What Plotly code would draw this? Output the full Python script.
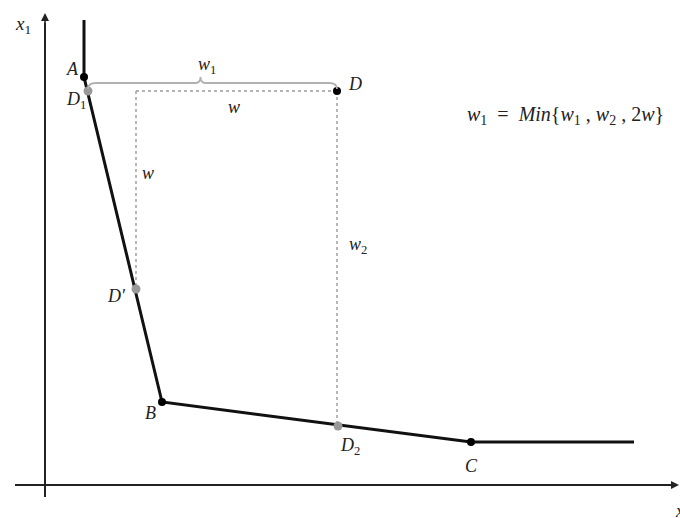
import plotly.graph_objects as go

# Frontier vertices (x2, x1) in chart units (origin at axes intersection)
frontier_names = ["top", "A", "B", "C", "end"]
frontier_x2 = [39, 39, 117, 426, 589]
frontier_x1 = [465, 408, 83, 43, 43]

# Named points
black_pts = ["A", "B", "C", "D"]
black_x2 = [39, 117, 426, 292]
black_x1 = [408, 83, 43, 394]

gray_pts = ["D1", "D'", "D2"]
gray_x2 = [43, 91, 293]
gray_x1 = [394, 196, 59]

FONT = "Liberation Serif"
fig = go.Figure()

# Axes
fig.add_trace(go.Scatter(x=[0, 0], y=[-12, 462], mode="lines",
                         line=dict(color="#222", width=2), hoverinfo="skip"))
fig.add_trace(go.Scatter(x=[-30, 628], y=[0, 0], mode="lines",
                         line=dict(color="#222", width=2), hoverinfo="skip"))

# Dotted construction lines
Dx, Dy = black_x2[3], black_x1[3]
Dpx, Dpy = gray_x2[1], gray_x1[1]
D2x, D2y = gray_x2[2], gray_x1[2]
dot = dict(color="#9a9a9a", width=1.4, dash="dot")
fig.add_trace(go.Scatter(x=[Dpx, Dx], y=[Dy, Dy], mode="lines", line=dot, hoverinfo="skip"))
fig.add_trace(go.Scatter(x=[Dpx, Dpx], y=[Dy, Dpy], mode="lines", line=dot, hoverinfo="skip"))
fig.add_trace(go.Scatter(x=[Dx, Dx], y=[Dy, D2y], mode="lines", line=dot, hoverinfo="skip"))

# Brace from D1 to D
x0b, x1b = gray_x2[0], Dx
yb = Dy + 8
mid = (x0b + x1b) / 2 - 12
path = (f"M {x0b},{Dy+2} Q {x0b},{yb} {x0b+8},{yb} L {mid-5},{yb} "
        f"Q {mid},{yb} {mid},{yb+6} Q {mid},{yb} {mid+5},{yb} "
        f"L {x1b-8},{yb} Q {x1b},{yb} {x1b},{Dy+2}")
fig.add_shape(type="path", path=path, xref="x", yref="y",
              line=dict(color="#b0b0b0", width=1.8))

# Frontier
fig.add_trace(go.Scatter(x=frontier_x2, y=frontier_x1, mode="lines",
                         line=dict(color="#111", width=3), hoverinfo="skip"))

# Points
fig.add_trace(go.Scatter(x=gray_x2, y=gray_x1, mode="markers",
                         marker=dict(color="#999", size=9), hoverinfo="skip"))
fig.add_trace(go.Scatter(x=black_x2, y=black_x1, mode="markers",
                         marker=dict(color="#000", size=8), hoverinfo="skip"))

def lab(x, y, text, dx=0, dy=0, size=18, xanchor="center"):
    fig.add_annotation(x=x, y=y, text=text, showarrow=False, xshift=dx, yshift=dy,
                       xanchor=xanchor, font=dict(family=FONT, size=size, color="#222"))

lab(black_x2[0], black_x1[0], "<i>A</i>", -12, 8)
lab(gray_x2[0], gray_x1[0], "<i>D</i><sub>1</sub>", -12, -9)
lab(Dx, Dy, "<i>D</i>", 18, 7)
lab(Dpx, Dpy, "<i>D′</i>", -20, -7)
lab(black_x2[1], black_x1[1], "<i>B</i>", -12, -11)
lab(D2x, D2y, "<i>D</i><sub>2</sub>", 12, -20)
lab(black_x2[2], black_x1[2], "<i>C</i>", 0, -24)
lab((Dpx + Dx) / 2, Dy, "<i>w</i>", -3, -16)
lab(Dpx, 312, "<i>w</i>", 12, 0)
lab(Dx, 240, "<i>w</i><sub>2</sub>", 21, 0)
lab(mid, yb, "<i>w</i><sub>1</sub>", 6, 18)
lab(0, 460, "<i>x</i><sub>1</sub>", -22, 0, size=19)
lab(628, -27, "<i>x</i><sub>2</sub>", 0, 0, xanchor="left")
lab(420, 370, "<i>w</i><sub>1</sub>  =  <i>Min</i>{<i>w</i><sub>1</sub> , <i>w</i><sub>2</sub> , 2<i>w</i>}",
    0, 0, size=20, xanchor="left")

# Arrowheads on axes
fig.add_annotation(x=0, y=472, ax=0, ay=440, xref="x", yref="y", axref="x", ayref="y",
                   showarrow=True, arrowhead=2, arrowsize=1, arrowwidth=1.6,
                   arrowcolor="#222", text="")
fig.add_annotation(x=634, y=0, ax=600, ay=0, xref="x", yref="y", axref="x", ayref="y",
                   showarrow=True, arrowhead=2, arrowsize=1, arrowwidth=1.6,
                   arrowcolor="#222", text="")

fig.update_layout(
    width=680, height=518, margin=dict(l=0, r=0, t=0, b=0),
    paper_bgcolor="white", plot_bgcolor="white", showlegend=False,
    xaxis=dict(range=[-45, 635], visible=False, fixedrange=True),
    yaxis=dict(range=[-33, 485], visible=False, fixedrange=True),
)
fig.write_html("out.html", config={"displayModeBar": False},
               post_script="document.body.style.margin='0';document.body.style.overflow='hidden';")
